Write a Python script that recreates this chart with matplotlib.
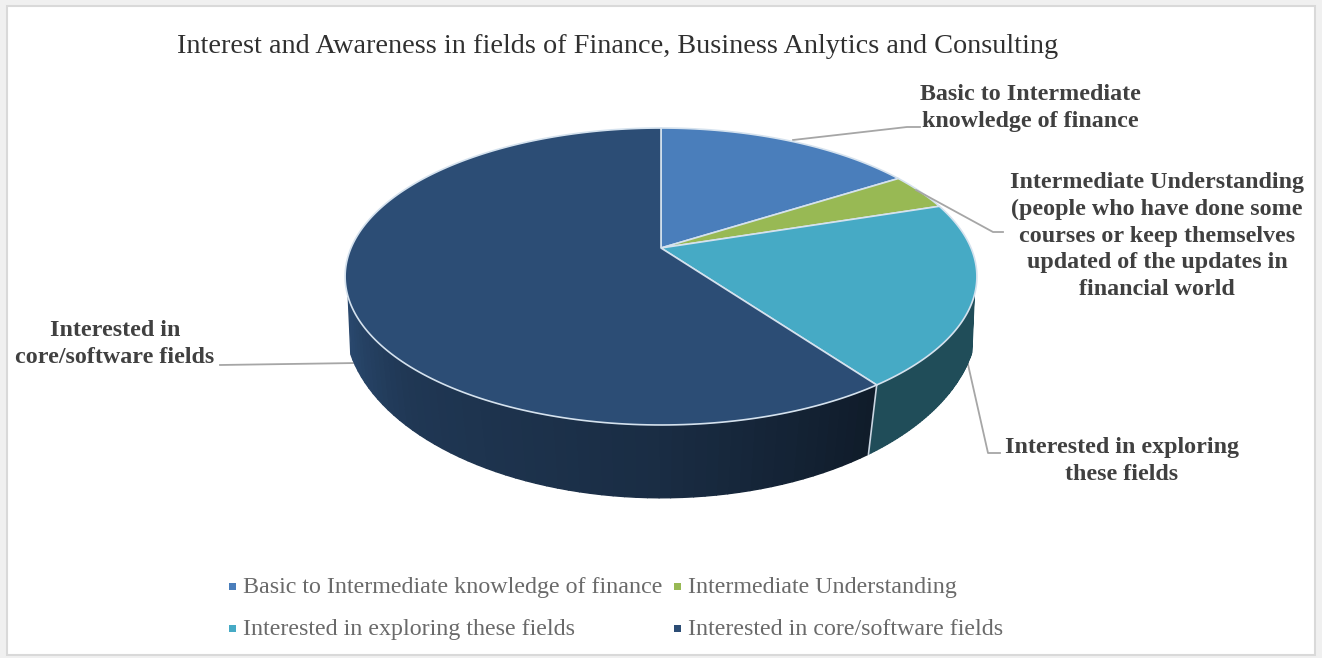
import numpy as np
import matplotlib
matplotlib.use('Agg')
import matplotlib.pyplot as plt
from matplotlib.collections import PolyCollection
from matplotlib.patches import Rectangle

title = 'Interest and Awareness in fields of Finance, Business Anlytics and Consulting'
categories = ['Basic to Intermediate knowledge of finance', 'Intermediate Understanding',
              'Interested in exploring these fields', 'Interested in core/software fields']
values = [16, 4, 20, 60]
colors = ['#4a7ebb', '#98b954', '#46aac5', '#2c4d75']
data_labels = ['Basic to Intermediate\nknowledge of finance',
               'Intermediate Understanding\n(people who have done some\ncourses or keep themselves\nupdated of the updates in\nfinancial world',
               'Interested in exploring\nthese fields',
               'Interested in\ncore/software fields']

plt.rcParams['font.family'] = ['Liberation Serif', 'DejaVu Serif']

fig = plt.figure(figsize=(13.22, 6.58), dpi=100, facecolor='#f0f0f0')
ax = fig.add_axes([0, 0, 1, 1])
ax.set_xlim(0, 1322)
ax.set_ylim(658, 0)
ax.axis('off')

# card behind the chart
ax.add_patch(Rectangle((7, 6), 1308, 649, facecolor='white', edgecolor='#d9d9d9', lw=1.5))


# perspective projection of the unit circle, theta clockwise from 12 o'clock
def project(theta, cy, a, b, k, cx=661):
    x = np.sin(theta)
    y = np.cos(theta)
    w = 1 + k * y
    return cx + a * x / w, cy - b * y / w


def top_rim(theta):
    return project(theta, 248, 310, 143, 0.192)


def bottom_rim(theta):
    return project(theta, 295, 313, 174.4, 0.14)


def side_shade(deg, i):
    # teal side is flat, the big slice runs dark on the right to lighter on the left
    if i == 2:
        return np.full_like(deg, 0.45)
    return np.interp(deg, [144, 180, 225, 252], [0.36, 0.58, 0.72, 0.95])


edges = np.cumsum([0] + values) / sum(values) * 2 * np.pi

# side wall first, the top face goes over it
polys = []
poly_colors = []
for i, col in enumerate(colors):
    t = np.linspace(edges[i], edges[i + 1], 120)
    t = t[(t > np.radians(108)) & (t < np.radians(252))]
    if len(t) < 2:
        continue
    base = np.array(matplotlib.colors.to_rgb(col))
    shade = side_shade(np.degrees(t), i)
    xt, yt = top_rim(t)
    xb, yb = bottom_rim(t)
    for j in range(len(t) - 1):
        polys.append([(xt[j], yt[j]), (xt[j + 1], yt[j + 1]), (xb[j + 1], yb[j + 1]), (xb[j], yb[j])])
        poly_colors.append(np.clip(base * shade[j], 0, 1))
ax.add_collection(PolyCollection(polys, facecolors=poly_colors, edgecolors='face', linewidths=1.0, zorder=2))

# seam between the two visible side walls
seam = edges[3]
ax.plot([top_rim(seam)[0], bottom_rim(seam)[0]], [top_rim(seam)[1], bottom_rim(seam)[1]],
        color='#c9d6e2', lw=1.2, zorder=3)

# top face
for i, col in enumerate(colors):
    t = np.linspace(edges[i], edges[i + 1], 200)
    xs, ys = top_rim(t)
    ax.fill(np.r_[661, xs], np.r_[248, ys], facecolor=col, edgecolor='#d5e2ee', lw=1.2,
            joinstyle='round', zorder=4)

# leader lines
leader_color = '#a6a6a6'
ax.plot([793, 907, 920], [140, 127, 127], color=leader_color, lw=1.3, zorder=1)
ax.plot([916, 993, 1003], [190, 232, 232], color=leader_color, lw=1.3, zorder=5)
ax.plot([967, 988, 1000], [360, 453, 453], color=leader_color, lw=1.3, zorder=1)
ax.plot([220, 357], [365, 363], color=leader_color, lw=1.3, zorder=1)

ax.text(618, 53, title, fontsize=20.3, color='#303030', ha='center', va='baseline')

label_pos = [(1030, 108), (1157, 236), (1122, 461), (115, 344)]
for text, (lx, ly) in zip(data_labels, label_pos):
    ax.text(lx, ly, text, fontsize=17.3, fontweight='bold', color='#404040', ha='center', va='center',
            multialignment='center', linespacing=1.35, zorder=6)

# legend
legend_pos = [(232, 586), (677, 586), (232, 628), (677, 628)]
for name, col, (mx, my) in zip(categories, colors, legend_pos):
    ax.add_patch(Rectangle((mx - 3.5, my - 3.5), 7, 7, facecolor=col, edgecolor='none'))
    ax.text(mx + 11, my + 7, name, fontsize=17.25, color='#6a6a6a', ha='left', va='baseline')

fig.savefig('out.png', dpi=100, facecolor=fig.get_facecolor())
